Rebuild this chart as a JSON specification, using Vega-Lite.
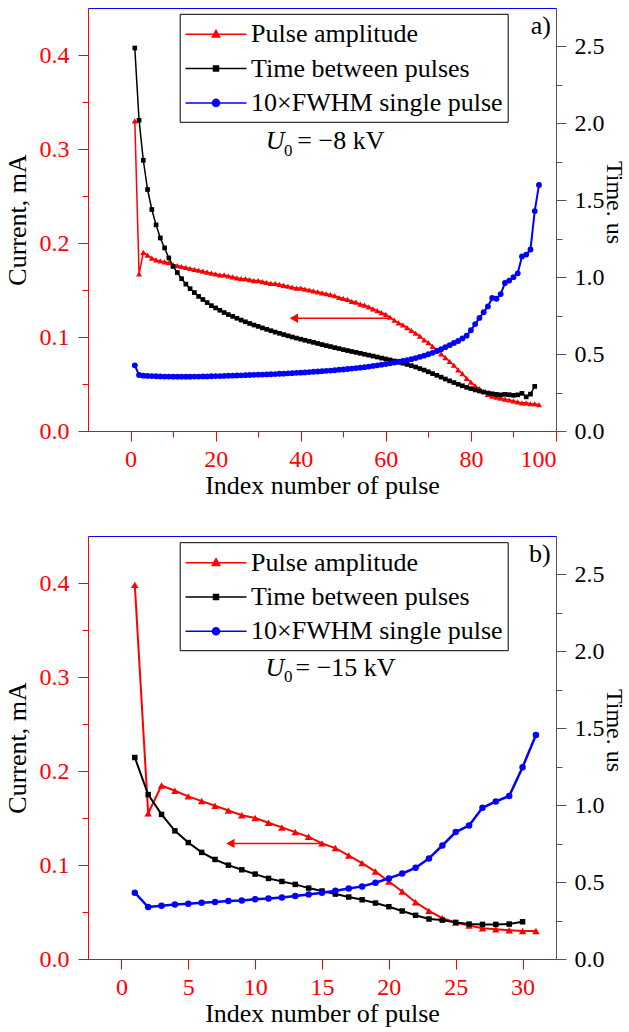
{
"$schema":"https://vega.github.io/schema/vega-lite/v6.json",
"padding":{"left":3,"top":7,"right":0,"bottom":0},
"spacing":36,
"config":{"font":"Liberation Serif, Times New Roman, Times, serif","view":{"stroke":"#0000ff","strokeWidth":1},
 "text":{"font":"Liberation Serif, Times New Roman, Times, serif"},
 "legend":{"labelFont":"Liberation Serif, Times New Roman, Times, serif"},
 "axis":{"grid":false,"labelFont":"Liberation Serif, Times New Roman, Times, serif","titleFont":"Liberation Serif, Times New Roman, Times, serif","labelFontSize":24,"titleFontSize":26,"titleFontWeight":"normal","titleColor":"#000","domainWidth":1,"tickWidth":1}},
"datasets":{
"a":[
{"n":1,"amp":0.33,"tbp":2.49,"fwhm":0.427},{"n":2,"amp":0.167,"tbp":2.02,"fwhm":0.364},{"n":3,"amp":0.19,"tbp":1.76,"fwhm":0.36},{"n":4,"amp":0.187,"tbp":1.57,"fwhm":0.358},{"n":5,"amp":0.184,"tbp":1.44,"fwhm":0.357},{"n":6,"amp":0.182,"tbp":1.34,"fwhm":0.356},{"n":7,"amp":0.181,"tbp":1.255,"fwhm":0.355},{"n":8,"amp":0.18,"tbp":1.19,"fwhm":0.354},{"n":9,"amp":0.179,"tbp":1.125,"fwhm":0.354},{"n":10,"amp":0.177,"tbp":1.07,"fwhm":0.353},
{"n":11,"amp":0.176,"tbp":1.03,"fwhm":0.353},{"n":12,"amp":0.175,"tbp":0.99,"fwhm":0.353},{"n":13,"amp":0.174,"tbp":0.955,"fwhm":0.353},{"n":14,"amp":0.173,"tbp":0.925,"fwhm":0.353},{"n":15,"amp":0.172,"tbp":0.9,"fwhm":0.354},{"n":16,"amp":0.171,"tbp":0.875,"fwhm":0.354},{"n":17,"amp":0.17,"tbp":0.855,"fwhm":0.355},{"n":18,"amp":0.169,"tbp":0.835,"fwhm":0.355},{"n":19,"amp":0.168,"tbp":0.815,"fwhm":0.356},{"n":20,"amp":0.167,"tbp":0.8,"fwhm":0.357},
{"n":21,"amp":0.166,"tbp":0.785,"fwhm":0.357},{"n":22,"amp":0.166,"tbp":0.77,"fwhm":0.358},{"n":23,"amp":0.165,"tbp":0.757,"fwhm":0.359},{"n":24,"amp":0.164,"tbp":0.745,"fwhm":0.36},{"n":25,"amp":0.163,"tbp":0.733,"fwhm":0.361},{"n":26,"amp":0.162,"tbp":0.721,"fwhm":0.362},{"n":27,"amp":0.162,"tbp":0.71,"fwhm":0.363},{"n":28,"amp":0.161,"tbp":0.699,"fwhm":0.364},{"n":29,"amp":0.16,"tbp":0.689,"fwhm":0.365},{"n":30,"amp":0.16,"tbp":0.68,"fwhm":0.366},
{"n":31,"amp":0.159,"tbp":0.67,"fwhm":0.367},{"n":32,"amp":0.158,"tbp":0.661,"fwhm":0.368},{"n":33,"amp":0.157,"tbp":0.652,"fwhm":0.369},{"n":34,"amp":0.157,"tbp":0.643,"fwhm":0.37},{"n":35,"amp":0.156,"tbp":0.635,"fwhm":0.372},{"n":36,"amp":0.155,"tbp":0.627,"fwhm":0.373},{"n":37,"amp":0.154,"tbp":0.619,"fwhm":0.375},{"n":38,"amp":0.153,"tbp":0.611,"fwhm":0.376},{"n":39,"amp":0.152,"tbp":0.604,"fwhm":0.378},{"n":40,"amp":0.152,"tbp":0.597,"fwhm":0.379},
{"n":41,"amp":0.151,"tbp":0.59,"fwhm":0.381},{"n":42,"amp":0.15,"tbp":0.583,"fwhm":0.383},{"n":43,"amp":0.149,"tbp":0.576,"fwhm":0.385},{"n":44,"amp":0.148,"tbp":0.569,"fwhm":0.387},{"n":45,"amp":0.147,"tbp":0.562,"fwhm":0.389},{"n":46,"amp":0.146,"tbp":0.555,"fwhm":0.391},{"n":47,"amp":0.145,"tbp":0.549,"fwhm":0.393},{"n":48,"amp":0.144,"tbp":0.542,"fwhm":0.395},{"n":49,"amp":0.142,"tbp":0.536,"fwhm":0.398},{"n":50,"amp":0.141,"tbp":0.529,"fwhm":0.4},
{"n":51,"amp":0.14,"tbp":0.523,"fwhm":0.403},{"n":52,"amp":0.138,"tbp":0.517,"fwhm":0.406},{"n":53,"amp":0.137,"tbp":0.511,"fwhm":0.409},{"n":54,"amp":0.135,"tbp":0.505,"fwhm":0.412},{"n":55,"amp":0.134,"tbp":0.499,"fwhm":0.415},{"n":56,"amp":0.132,"tbp":0.493,"fwhm":0.419},{"n":57,"amp":0.13,"tbp":0.487,"fwhm":0.423},{"n":58,"amp":0.128,"tbp":0.481,"fwhm":0.427},{"n":59,"amp":0.126,"tbp":0.474,"fwhm":0.431},{"n":60,"amp":0.124,"tbp":0.468,"fwhm":0.435},
{"n":61,"amp":0.121,"tbp":0.462,"fwhm":0.44},{"n":62,"amp":0.118,"tbp":0.455,"fwhm":0.445},{"n":63,"amp":0.115,"tbp":0.448,"fwhm":0.45},{"n":64,"amp":0.113,"tbp":0.441,"fwhm":0.455},{"n":65,"amp":0.11,"tbp":0.433,"fwhm":0.461},{"n":66,"amp":0.107,"tbp":0.425,"fwhm":0.467},{"n":67,"amp":0.104,"tbp":0.416,"fwhm":0.474},{"n":68,"amp":0.101,"tbp":0.406,"fwhm":0.482},{"n":69,"amp":0.097,"tbp":0.396,"fwhm":0.49},{"n":70,"amp":0.094,"tbp":0.385,"fwhm":0.499},
{"n":71,"amp":0.09,"tbp":0.373,"fwhm":0.508},{"n":72,"amp":0.086,"tbp":0.362,"fwhm":0.52},{"n":73,"amp":0.082,"tbp":0.35,"fwhm":0.532},{"n":74,"amp":0.078,"tbp":0.338,"fwhm":0.545},{"n":75,"amp":0.074,"tbp":0.326,"fwhm":0.558},{"n":76,"amp":0.07,"tbp":0.315,"fwhm":0.572},{"n":77,"amp":0.065,"tbp":0.304,"fwhm":0.585},{"n":78,"amp":0.061,"tbp":0.294,"fwhm":0.602},{"n":79,"amp":0.056,"tbp":0.284,"fwhm":0.62},{"n":80,"amp":0.052,"tbp":0.275,"fwhm":0.655},
{"n":81,"amp":0.048,"tbp":0.267,"fwhm":0.695},{"n":82,"amp":0.045,"tbp":0.26,"fwhm":0.735},{"n":83,"amp":0.042,"tbp":0.253,"fwhm":0.772},{"n":84,"amp":0.039,"tbp":0.247,"fwhm":0.81},{"n":85,"amp":0.037,"tbp":0.242,"fwhm":0.865},{"n":86,"amp":0.036,"tbp":0.238,"fwhm":0.86},{"n":87,"amp":0.035,"tbp":0.235,"fwhm":0.89},{"n":88,"amp":0.034,"tbp":0.238,"fwhm":0.962},{"n":89,"amp":0.033,"tbp":0.236,"fwhm":0.978},{"n":90,"amp":0.032,"tbp":0.232,"fwhm":1.0},
{"n":91,"amp":0.031,"tbp":0.235,"fwhm":1.025},{"n":92,"amp":0.03,"tbp":0.245,"fwhm":1.135},{"n":93,"amp":0.03,"tbp":0.222,"fwhm":1.147},{"n":94,"amp":0.029,"tbp":0.24,"fwhm":1.18},{"n":95,"amp":0.029,"tbp":0.29,"fwhm":1.43},{"n":96,"amp":0.028,"tbp":null,"fwhm":1.6}
],
"b":[
{"n":1,"amp":0.398,"tbp":1.31,"fwhm":0.431},{"n":2,"amp":0.155,"tbp":1.069,"fwhm":0.338},{"n":3,"amp":0.1845,"tbp":0.94,"fwhm":0.346},{"n":4,"amp":0.179,"tbp":0.833,"fwhm":0.355},{"n":5,"amp":0.173,"tbp":0.757,"fwhm":0.359},{"n":6,"amp":0.168,"tbp":0.693,"fwhm":0.366},{"n":7,"amp":0.163,"tbp":0.647,"fwhm":0.37},{"n":8,"amp":0.158,"tbp":0.61,"fwhm":0.377},{"n":9,"amp":0.153,"tbp":0.58,"fwhm":0.381},{"n":10,"amp":0.15,"tbp":0.552,"fwhm":0.388},
{"n":11,"amp":0.145,"tbp":0.524,"fwhm":0.394},{"n":12,"amp":0.14,"tbp":0.504,"fwhm":0.4},{"n":13,"amp":0.135,"tbp":0.485,"fwhm":0.409},{"n":14,"amp":0.13,"tbp":0.461,"fwhm":0.42},{"n":15,"amp":0.123,"tbp":0.442,"fwhm":0.431},{"n":16,"amp":0.118,"tbp":0.422,"fwhm":0.444},{"n":17,"amp":0.11,"tbp":0.403,"fwhm":0.459},{"n":18,"amp":0.102,"tbp":0.385,"fwhm":0.472},{"n":19,"amp":0.093,"tbp":0.364,"fwhm":0.496},{"n":20,"amp":0.0825,"tbp":0.34,"fwhm":0.524},
{"n":21,"amp":0.0718,"tbp":0.312,"fwhm":0.556},{"n":22,"amp":0.0604,"tbp":0.284,"fwhm":0.593},{"n":23,"amp":0.0512,"tbp":0.26,"fwhm":0.654},{"n":24,"amp":0.0434,"tbp":0.253,"fwhm":0.738},{"n":25,"amp":0.0388,"tbp":0.238,"fwhm":0.825},{"n":26,"amp":0.0356,"tbp":0.227,"fwhm":0.868},{"n":27,"amp":0.0327,"tbp":0.225,"fwhm":0.983},{"n":28,"amp":0.0316,"tbp":0.225,"fwhm":1.024},{"n":29,"amp":0.0306,"tbp":0.227,"fwhm":1.06},{"n":30,"amp":0.0299,"tbp":0.242,"fwhm":1.247},
{"n":31,"amp":0.0299,"tbp":null,"fwhm":1.457}
]
},
"resolve":{"scale":{"fill":"independent","stroke":"independent","shape":"independent"}},
"vconcat":[
{
"width":468,"height":423,
"resolve":{"scale":{"y":"independent"}},
"layer":[
{"layer":[
 {"data":{"name":"a"},"mark":{"type":"line","color":"#ff0000","strokeWidth":1.5},
  "encoding":{
   "x":{"field":"n","type":"quantitative","title":"Index number of pulse","scale":{"domain":[-10,100],"nice":false,"zero":false},
    "axis":{"values":[0,10,20,30,40,50,60,70,80,90,100],"format":"d","labelExpr":"datum.value % 20 === 0 ? datum.label : ''","tickSize":{"condition":{"test":"datum.value % 20 !== 0","value":6},"value":10},"domainColor":"#ff0000","tickColor":"#ff0000","labelColor":"#ff0000","labelPadding":6,"titlePadding":1}},
   "y":{"field":"amp","type":"quantitative","title":"Current, mA","scale":{"domain":[0,0.45],"nice":false,"zero":false},
    "axis":{"values":[0,0.05,0.1,0.15,0.2,0.25,0.3,0.35,0.4],"format":".1f","labelExpr":"abs(datum.value*10-round(datum.value*10))<1e-6 ? datum.label : ''","tickSize":{"condition":{"test":"abs(datum.value*10-round(datum.value*10))>1e-6","value":6},"value":10},"domainColor":"#ff0000","tickColor":"#ff0000","labelColor":"#ff0000","labelPadding":9,"titlePadding":9}}}},
 {"data":{"name":"a"},"mark":{"type":"point","filled":true,"shape":"triangle-up","size":36,"opacity":1,"color":"#ff0000"},
  "encoding":{"x":{"field":"n","type":"quantitative","title":"Index number of pulse"},"y":{"field":"amp","type":"quantitative","title":"Current, mA"}}},
 {"data":{"values":[]},"mark":{"type":"point","filled":true,"size":864,"strokeWidth":1.5,"opacity":1},
  "encoding":{
   "fill":{"field":"s","type":"nominal","scale":{"domain":["Pulse amplitude","Time between pulses","10×FWHM single pulse"],"range":["#ff0000","#000000","#0000ff"]},
    "legend":{"orient":"none","legendX":91.7,"legendY":5.8,"title":null,"strokeColor":"#000","fillColor":"#fff","padding":5,"labelFontSize":26,"labelColor":"#000","labelLimit":500,"labelOffset":19.6,"symbolOffset":15.8,"rowPadding":5.3,"symbolSize":864,"symbolStrokeWidth":1.5}},
   "stroke":{"field":"s","type":"nominal","scale":{"domain":["Pulse amplitude","Time between pulses","10×FWHM single pulse"],"range":["#ff0000","#000000","#0000ff"]},
    "legend":{"orient":"none","legendX":91.7,"legendY":5.8,"title":null,"strokeColor":"#000","fillColor":"#fff","padding":5,"labelFontSize":26,"labelColor":"#000","labelLimit":500,"labelOffset":19.6,"symbolOffset":15.8,"rowPadding":5.3,"symbolSize":864,"symbolStrokeWidth":1.5}},
   "shape":{"field":"s","type":"nominal","scale":{"domain":["Pulse amplitude","Time between pulses","10×FWHM single pulse"],"range":["M-2.075,0H2.075M0,-0.27L0.25,0.19L-0.25,0.19Z","M-2.075,0H2.075M-0.17,-0.17H0.17V0.17H-0.17Z","M-2.075,0H2.075M0.24,0A0.24,0.24,0,1,1,-0.24,0A0.24,0.24,0,1,1,0.24,0Z"]},
    "legend":{"orient":"none","legendX":91.7,"legendY":5.8,"title":null,"strokeColor":"#000","fillColor":"#fff","padding":5,"labelFontSize":26,"labelColor":"#000","labelLimit":500,"labelOffset":19.6,"symbolOffset":15.8,"rowPadding":5.3,"symbolSize":864,"symbolStrokeWidth":1.5}}}},
 {"data":{"values":[{}]},"mark":{"type":"rule","color":"#ff0000","strokeWidth":1.5},"encoding":{"x":{"datum":37.8},"x2":{"datum":60.8},"y":{"datum":0.12}}},
 {"data":{"values":[{}]},"mark":{"type":"point","shape":"triangle-left","filled":true,"size":90,"color":"#ff0000","opacity":1},"encoding":{"x":{"datum":38.4},"y":{"datum":0.12}}},
 {"data":{"values":[{}]},"mark":{"type":"text","text":"U","fontSize":26,"fontStyle":"italic","align":"left","baseline":"alphabetic","color":"#000"},"encoding":{"x":{"datum":31.76},"y":{"datum":0.2997}}},
 {"data":{"values":[{}]},"mark":{"type":"text","text":"0","fontSize":17,"align":"left","baseline":"alphabetic","color":"#000"},"encoding":{"x":{"datum":36.07},"y":{"datum":0.2926}}},
 {"data":{"values":[{}]},"mark":{"type":"text","text":"= −8 kV","fontSize":26,"align":"left","baseline":"alphabetic","color":"#000"},"encoding":{"x":{"datum":39.2},"y":{"datum":0.2997}}},
 {"data":{"values":[{}]},"mark":{"type":"text","text":"a)","fontSize":26,"align":"right","baseline":"alphabetic","color":"#000"},"encoding":{"x":{"datum":98.8},"y":{"datum":0.422}}}
]},
{"layer":[
 {"data":{"name":"a"},"mark":{"type":"line","color":"#000000","strokeWidth":1.5},
  "encoding":{"x":{"field":"n","type":"quantitative","title":"Index number of pulse"},
   "y":{"field":"tbp","type":"quantitative","title":"Time. us","scale":{"domain":[0,2.75],"nice":false,"zero":false},
    "axis":{"orient":"right","values":[0,0.25,0.5,0.75,1,1.25,1.5,1.75,2,2.25,2.5],"format":".1f","labelExpr":"abs(datum.value*2-round(datum.value*2))<1e-6 ? datum.label : ''","tickSize":{"condition":{"test":"abs(datum.value*2-round(datum.value*2))>1e-6","value":6},"value":10},"domainColor":"#555555","tickColor":"#555555","labelColor":"#000","labelPadding":8,"titlePadding":-3,"titleFontSize":24,"titleY":194}}}},
 {"data":{"name":"a"},"mark":{"type":"point","filled":true,"shape":"square","size":22,"opacity":1,"color":"#000000"},
  "encoding":{"x":{"field":"n","type":"quantitative","title":"Index number of pulse"},"y":{"field":"tbp","type":"quantitative","title":"Time. us"}}},
 {"data":{"name":"a"},"mark":{"type":"line","color":"#0000ff","strokeWidth":2},
  "encoding":{"x":{"field":"n","type":"quantitative","title":"Index number of pulse"},"y":{"field":"fwhm","type":"quantitative","title":"Time. us"}}},
 {"data":{"name":"a"},"mark":{"type":"point","filled":true,"shape":"circle","size":34,"opacity":1,"color":"#0000ff"},
  "encoding":{"x":{"field":"n","type":"quantitative","title":"Index number of pulse"},"y":{"field":"fwhm","type":"quantitative","title":"Time. us"}}}
]}
]
},
{
"width":468,"height":423,
"resolve":{"scale":{"y":"independent"}},
"layer":[
{"layer":[
 {"data":{"name":"b"},"mark":{"type":"line","color":"#ff0000","strokeWidth":2},
  "encoding":{
   "x":{"field":"n","type":"quantitative","title":"Index number of pulse","scale":{"domain":[-2.5,32.5],"nice":false,"zero":false},
    "axis":{"values":[0,2.5,5,7.5,10,12.5,15,17.5,20,22.5,25,27.5,30],"format":"d","labelExpr":"datum.value % 5 === 0 ? datum.label : ''","tickSize":{"condition":{"test":"datum.value % 5 !== 0","value":6},"value":10},"domainColor":"#ff0000","tickColor":"#ff0000","labelColor":"#ff0000","labelPadding":6,"titlePadding":1}},
   "y":{"field":"amp","type":"quantitative","title":"Current, mA","scale":{"domain":[0,0.45],"nice":false,"zero":false},
    "axis":{"values":[0,0.05,0.1,0.15,0.2,0.25,0.3,0.35,0.4],"format":".1f","labelExpr":"abs(datum.value*10-round(datum.value*10))<1e-6 ? datum.label : ''","tickSize":{"condition":{"test":"abs(datum.value*10-round(datum.value*10))>1e-6","value":6},"value":10},"domainColor":"#ff0000","tickColor":"#ff0000","labelColor":"#ff0000","labelPadding":9,"titlePadding":9}}}},
 {"data":{"name":"b"},"mark":{"type":"point","filled":true,"shape":"triangle-up","size":56,"opacity":1,"color":"#ff0000"},
  "encoding":{"x":{"field":"n","type":"quantitative","title":"Index number of pulse"},"y":{"field":"amp","type":"quantitative","title":"Current, mA"}}},
 {"data":{"values":[]},"mark":{"type":"point","filled":true,"size":864,"strokeWidth":1.5,"opacity":1},
  "encoding":{
   "fill":{"field":"s","type":"nominal","scale":{"domain":["Pulse amplitude","Time between pulses","10×FWHM single pulse"],"range":["#ff0000","#000000","#0000ff"]},
    "legend":{"orient":"none","legendX":91.7,"legendY":6.2,"title":null,"strokeColor":"#000","fillColor":"#fff","padding":5,"labelFontSize":26,"labelColor":"#000","labelLimit":500,"labelOffset":19.6,"symbolOffset":15.8,"rowPadding":5.3,"symbolSize":864,"symbolStrokeWidth":1.5}},
   "stroke":{"field":"s","type":"nominal","scale":{"domain":["Pulse amplitude","Time between pulses","10×FWHM single pulse"],"range":["#ff0000","#000000","#0000ff"]},
    "legend":{"orient":"none","legendX":91.7,"legendY":6.2,"title":null,"strokeColor":"#000","fillColor":"#fff","padding":5,"labelFontSize":26,"labelColor":"#000","labelLimit":500,"labelOffset":19.6,"symbolOffset":15.8,"rowPadding":5.3,"symbolSize":864,"symbolStrokeWidth":1.5}},
   "shape":{"field":"s","type":"nominal","scale":{"domain":["Pulse amplitude","Time between pulses","10×FWHM single pulse"],"range":["M-2.075,0H2.075M0,-0.27L0.25,0.19L-0.25,0.19Z","M-2.075,0H2.075M-0.17,-0.17H0.17V0.17H-0.17Z","M-2.075,0H2.075M0.24,0A0.24,0.24,0,1,1,-0.24,0A0.24,0.24,0,1,1,0.24,0Z"]},
    "legend":{"orient":"none","legendX":91.7,"legendY":6.2,"title":null,"strokeColor":"#000","fillColor":"#fff","padding":5,"labelFontSize":26,"labelColor":"#000","labelLimit":500,"labelOffset":19.6,"symbolOffset":15.8,"rowPadding":5.3,"symbolSize":864,"symbolStrokeWidth":1.5}}}},
 {"data":{"values":[{}]},"mark":{"type":"rule","color":"#ff0000","strokeWidth":1.5},"encoding":{"x":{"datum":8.0},"x2":{"datum":15.0},"y":{"datum":0.123}}},
 {"data":{"values":[{}]},"mark":{"type":"point","shape":"triangle-left","filled":true,"size":90,"color":"#ff0000","opacity":1},"encoding":{"x":{"datum":8.15},"y":{"datum":0.123}}},
 {"data":{"values":[{}]},"mark":{"type":"text","text":"U","fontSize":26,"fontStyle":"italic","align":"left","baseline":"alphabetic","color":"#000"},"encoding":{"x":{"datum":10.78},"y":{"datum":0.3011}}},
 {"data":{"values":[{}]},"mark":{"type":"text","text":"0","fontSize":17,"align":"left","baseline":"alphabetic","color":"#000"},"encoding":{"x":{"datum":12.15},"y":{"datum":0.2944}}},
 {"data":{"values":[{}]},"mark":{"type":"text","text":"= −15 kV","fontSize":26,"align":"left","baseline":"alphabetic","color":"#000"},"encoding":{"x":{"datum":13.02},"y":{"datum":0.3011}}},
 {"data":{"values":[{}]},"mark":{"type":"text","text":"b)","fontSize":26,"align":"right","baseline":"alphabetic","color":"#000"},"encoding":{"x":{"datum":32.1},"y":{"datum":0.422}}}
]},
{"layer":[
 {"data":{"name":"b"},"mark":{"type":"line","color":"#000000","strokeWidth":2},
  "encoding":{"x":{"field":"n","type":"quantitative","title":"Index number of pulse"},
   "y":{"field":"tbp","type":"quantitative","title":"Time. us","scale":{"domain":[0,2.75],"nice":false,"zero":false},
    "axis":{"orient":"right","values":[0,0.25,0.5,0.75,1,1.25,1.5,1.75,2,2.25,2.5],"format":".1f","labelExpr":"abs(datum.value*2-round(datum.value*2))<1e-6 ? datum.label : ''","tickSize":{"condition":{"test":"abs(datum.value*2-round(datum.value*2))>1e-6","value":6},"value":10},"domainColor":"#555555","tickColor":"#555555","labelColor":"#000","labelPadding":8,"titlePadding":-3,"titleFontSize":24,"titleY":194}}}},
 {"data":{"name":"b"},"mark":{"type":"point","filled":true,"shape":"square","size":30,"opacity":1,"color":"#000000"},
  "encoding":{"x":{"field":"n","type":"quantitative","title":"Index number of pulse"},"y":{"field":"tbp","type":"quantitative","title":"Time. us"}}},
 {"data":{"name":"b"},"mark":{"type":"line","color":"#0000ff","strokeWidth":2.5},
  "encoding":{"x":{"field":"n","type":"quantitative","title":"Index number of pulse"},"y":{"field":"fwhm","type":"quantitative","title":"Time. us"}}},
 {"data":{"name":"b"},"mark":{"type":"point","filled":true,"shape":"circle","size":42,"opacity":1,"color":"#0000ff"},
  "encoding":{"x":{"field":"n","type":"quantitative","title":"Index number of pulse"},"y":{"field":"fwhm","type":"quantitative","title":"Time. us"}}}
]}
]
}
]
}
